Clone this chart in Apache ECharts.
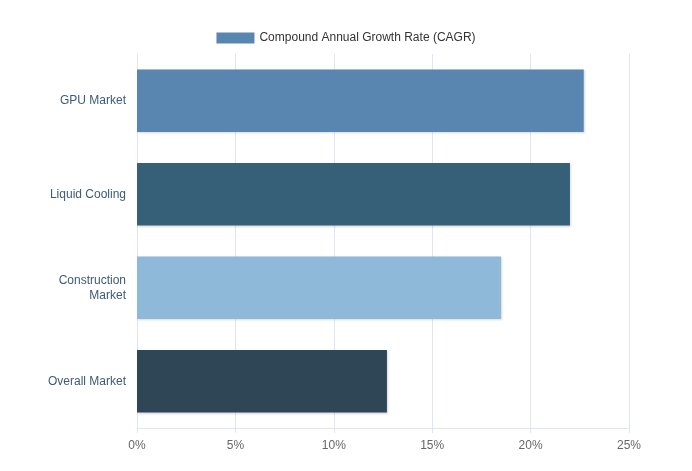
<!DOCTYPE html>
<html><head><meta charset="utf-8">
<script src="https://cdn.jsdelivr.net/npm/echarts@6/dist/echarts.min.js"></script>
<style>html,body{margin:0;padding:0;background:#fff}#c{width:692px;height:471px}</style>
</head><body><div id="c"></div>
<script>
const categories = ['GPU Market', 'Liquid Cooling', 'Construction Market', 'Overall Market'];
const cagrValues = [22.7, 22.0, 18.5, 12.7];
const barColors = ['#5886b0', '#365f78', '#8fb9d9', '#2f4656'];
const seriesName = 'Compound Annual Growth Rate (CAGR)';

const chart = echarts.init(document.getElementById('c'));
chart.setOption({
  animation: false,
  legend: {
    top: 27, left: 'center', itemWidth: 38, itemHeight: 11, itemGap: 10, icon: 'rect',
    textStyle: { color: '#333', fontSize: 12, fontFamily: 'Liberation Sans, Arial, sans-serif' },
    data: [seriesName]
  },
  grid: { left: 137, right: 63, top: 54, bottom: 43, containLabel: false },
  xAxis: {
    type: 'value', min: 0, max: 25, interval: 5,
    axisLabel: { formatter: '{value}%', color: '#666', fontSize: 12, margin: 12, fontFamily: 'Liberation Sans, Arial, sans-serif' },
    axisLine: { show: true, lineStyle: { color: '#e0e6f1' } },
    axisTick: { show: true, lineStyle: { color: '#e0e6f1' } },
    splitLine: { show: true, lineStyle: { color: '#e0e6f1' } }
  },
  yAxis: {
    type: 'category', data: categories, inverse: true,
    axisLabel: {
      color: '#3d5a78', fontSize: 12, margin: 11, lineHeight: 15, align: 'right',
      fontFamily: 'Liberation Sans, Arial, sans-serif',
      formatter: v => v.length > 15 ? v.replace(' ', '\n') : v
    },
    axisLine: { show: true, lineStyle: { color: '#dfe3ee' } },
    axisTick: { show: false }
  },
  series: [{
    name: seriesName, type: 'bar', barWidth: '67%',
    itemStyle: { color: barColors[0], shadowColor: 'rgba(0,0,0,0.15)', shadowBlur: 2, shadowOffsetX: 1, shadowOffsetY: 1 },
    data: cagrValues.map((v, i) => ({ value: v, itemStyle: { color: barColors[i] } }))
  }]
});
</script></body></html>
